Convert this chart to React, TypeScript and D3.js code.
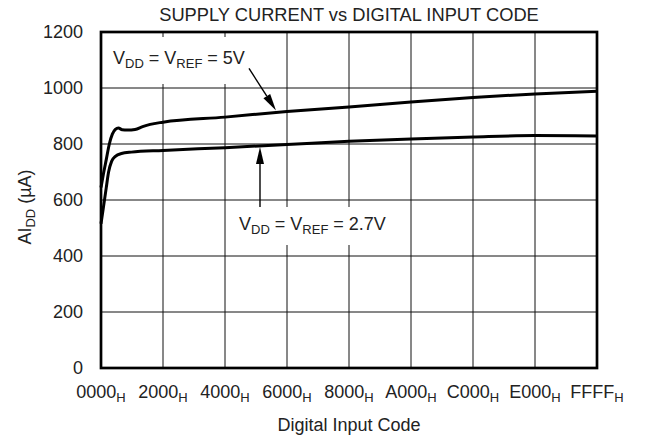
import React from "react";
import * as d3 from "d3";

const codes5V = [0, 300, 700, 1100, 1500, 1900, 2300, 2800, 3500, 4500, 5500, 6500, 8192, 16384, 24576, 32768, 40960, 49152, 57344, 65535];
const vals5V = [645, 690, 745, 800, 835, 852, 857, 851, 850, 852, 862, 870, 878, 896, 916, 932, 950, 966, 979, 988];

const codes27V = [0, 300, 700, 1000, 1400, 1900, 2700, 4000, 8192, 16384, 24576, 32768, 40960, 49152, 57344, 65535];
const vals27V = [515, 570, 645, 700, 738, 756, 766, 771, 777, 787, 798, 810, 818, 825, 830, 829];

const yTicks = [0, 200, 400, 600, 800, 1000, 1200];
const xTickCodes = [0, 8192, 16384, 24576, 32768, 40960, 49152, 57344, 65535];
const xTickLabels = ["0000", "2000", "4000", "6000", "8000", "A000", "C000", "E000", "FFFF"];

const title = "SUPPLY CURRENT vs DIGITAL INPUT CODE";
const xTitle = "Digital Input Code";

const W = 646, H = 439;
const L = 101, R = 597, T = 32, B = 368;
const FONT = "'Liberation Sans', Arial, Helvetica, sans-serif";
const TXT = "#222";
const FS = 18;
const SUB = 13;

function Arrow({ x1, y1, x2, y2 }: { x1: number; y1: number; x2: number; y2: number }) {
  const dx = x2 - x1, dy = y2 - y1;
  const len = Math.sqrt(dx * dx + dy * dy);
  const ux = dx / len, uy = dy / len;
  const hl = 17, hw = 4;
  const bx = x2 - ux * hl, by = y2 - uy * hl;
  const px = -uy, py = ux;
  const pts = `${x2},${y2} ${bx + px * hw},${by + py * hw} ${bx - px * hw},${by - py * hw}`;
  return (
    <g>
      <line x1={x1} y1={y1} x2={bx} y2={by} stroke="#000" strokeWidth={1.4} />
      <polygon points={pts} fill="#000" />
    </g>
  );
}

export default function App() {
  const x = d3.scaleLinear().domain([0, 65535]).range([L, R]);
  const y = d3.scaleLinear().domain([0, 1200]).range([B, T]);
  const line = d3.line<[number, number]>().x(d => x(d[0])).y(d => y(d[1])).curve(d3.curveMonotoneX);
  const d5 = line(codes5V.map((c, i) => [c, vals5V[i]]) as [number, number][]) || "";
  const d27 = line(codes27V.map((c, i) => [c, vals27V[i]]) as [number, number][]) || "";

  return (
    <svg width={W} height={H} style={{ display: "block", position: "absolute", left: 0, top: 0 }} fontFamily={FONT}>
      <rect x={0} y={0} width={W} height={H} fill="#fff" />
      {yTicks.map(t => (
        <line key={"gy" + t} x1={L} x2={R} y1={y(t)} y2={y(t)} stroke="#111" strokeWidth={1} />
      ))}
      {xTickCodes.map(t => (
        <line key={"gx" + t} x1={x(t)} x2={x(t)} y1={T} y2={B} stroke="#111" strokeWidth={1} />
      ))}
      <rect x={108} y={37} width={144} height={47} fill="#fff" />
      <rect x={x(17450)} y={y(575)} width={163} height={38} fill="#fff" />
      <path d={d5} fill="none" stroke="#000" strokeWidth={3} strokeLinejoin="round" />
      <path d={d27} fill="none" stroke="#000" strokeWidth={3} strokeLinejoin="round" />
      <rect x={L} y={T} width={R - L} height={B - T} fill="none" stroke="#000" strokeWidth={2.7} />
      {yTicks.map(t => (
        <text key={"yt" + t} x={83} y={y(t)} dy="0.35em" textAnchor="end" fontSize={FS} fill={TXT}>{t}</text>
      ))}
      {xTickCodes.map((t, i) => (
        <text key={"xt" + t} x={x(t)} y={398} textAnchor="middle" fontSize={FS} fill={TXT}>
          {xTickLabels[i]}
          <tspan fontSize={SUB} dy={4}>H</tspan>
        </text>
      ))}
      <text x={(L + R) / 2} y={20.5} textAnchor="middle" fontSize={18.3} fill={TXT}>{title}</text>
      <text x={(L + R) / 2} y={431} textAnchor="middle" fontSize={FS} fill={TXT}>{xTitle}</text>
      <text transform={`translate(31,${(T + B) / 2 + 7}) rotate(-90)`} textAnchor="middle" fontSize={FS} fill={TXT}>
        AI<tspan fontSize={SUB} dy={4}>DD</tspan><tspan dy={-4}> (µA)</tspan>
      </text>
      <text x={x(1586)} y={y(1084)} fontSize={FS} fill={TXT}>
        V<tspan fontSize={SUB} dy={4}>DD</tspan><tspan dy={-4}> = V</tspan><tspan fontSize={SUB} dy={4}>REF</tspan><tspan dy={-4}> = 5V</tspan>
      </text>
      <Arrow x1={x(19555)} y1={y(1070)} x2={x(23122)} y2={y(920)} />
      <text x={x(18234)} y={y(492)} fontSize={FS} fill={TXT}>
        V<tspan fontSize={SUB} dy={4}>DD</tspan><tspan dy={-4}> = V</tspan><tspan fontSize={SUB} dy={4}>REF</tspan><tspan dy={-4}> = 2.7V</tspan>
      </text>
      <Arrow x1={x(21008)} y1={y(575)} x2={x(21008)} y2={y(789)} />
    </svg>
  );
}
